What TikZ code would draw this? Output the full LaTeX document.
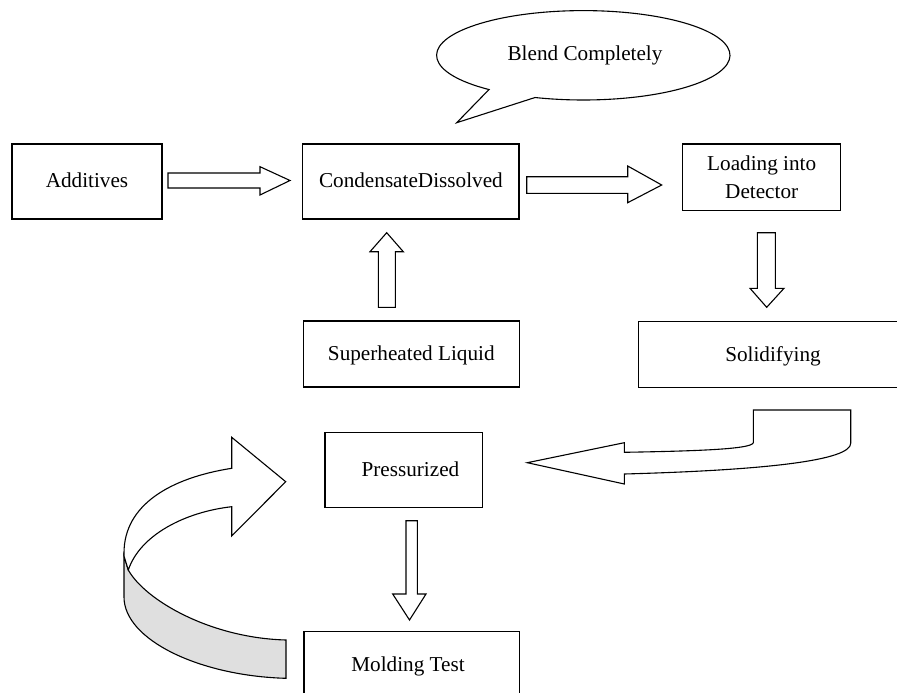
\documentclass[tikz,border=0pt]{standalone}
\usepackage{fontspec}
\setmainfont{Liberation Serif}
\usetikzlibrary{calc}
\tikzset{
  box/.style={draw, line width=1.2pt, inner sep=0pt, text height=15pt, text depth=3pt},
  lbl/.style={inner sep=0pt, text height=15pt, text depth=3pt},
  blk/.style={draw, line width=1.1pt, fill=white, line join=miter},
  ribbon/.style={draw, line width=1.1pt, fill=gray!25},
}
\begin{document}
\begin{tikzpicture}[x=1pt, y=-1pt, font=\fontsize{21.2pt}{28pt}\selectfont]
\useasboundingbox (0,0) rectangle (897,693);

% boxes
\node[box, minimum width=150pt, minimum height=75pt] (add) at (87,181.5) {Additives};
\node[box, minimum width=216.3pt, minimum height=75pt] (cond) at (410.9,181.5) {CondensateDissolved};
\node[draw, line width=1.2pt, inner sep=0pt, minimum width=158pt, minimum height=66.7pt, align=center] (load) at (761.7,177.4) {Loading into\\Detector};
\node[box, minimum width=216pt, minimum height=66pt] (superh) at (411.3,354) {Superheated Liquid};
\node[lbl] (solid) at (773,355) {Solidifying};
\coordinate (str) at (897,321.7);
\coordinate (sbr) at (897,387.5);
\draw[line width=1.2pt] (str) -- (638.3,321.7) -- (638.3,387.5) -- (sbr);
\node[box, minimum width=157.7pt, minimum height=74.6pt] (press) at (403.9,470) {\hspace*{13pt}Pressurized};
\coordinate (mtl) at (304,693);
\coordinate (mtr) at (519.3,693);
\draw[line width=1.2pt] (mtl) -- (304,631.7) -- (519.3,631.7) -- (mtr);
\node[lbl] (mold) at (408,665.7) {Molding Test};

% callout
\node[lbl] (blend) at (585,54) {Blend Completely};
\coordinate (ec) at (583.3,55.3);
\coordinate (tail) at (456.7,122.7);
\draw[line width=1.1pt, line join=miter] (tail) -- ($(ec)+(130:146.7 and 44.7)$)
  arc[start angle=130, end angle=469.2, x radius=146.7, y radius=44.7] -- cycle;

% straight block arrows
\draw[blk] (168,173) -- (260,173) -- (260,166.7) -- (290,180.5) -- (260,195) -- (260,188) -- (168,188) -- cycle;
\draw[blk] (526.7,176.7) -- (627.7,176.7) -- (627.7,166) -- (661.7,185) -- (627.7,202.7) -- (627.7,193.3) -- (526.7,193.3) -- cycle;
\draw[blk] (378.3,307.3) -- (378.3,251.7) -- (370,251.7) -- (386.7,232.7) -- (403.3,251.7) -- (395.3,251.7) -- (395.3,307.3) -- cycle;
\draw[blk] (757.3,232.7) -- (757.3,288.3) -- (750,288.3) -- (766.7,307.3) -- (784,288.3) -- (775.3,288.3) -- (775.3,232.7) -- cycle;
\draw[blk] (406,520.7) -- (406,594) -- (392.7,594) -- (409.5,620) -- (426,594) -- (417.3,594) -- (417.3,520.7) -- cycle;

% U-turn arrow from Solidifying to Pressurized
\draw[blk] (527.3,462.7) -- (624.3,442.7) -- (624.3,452.3)
  .. controls (700,451) and (752,449) .. (753.3,442.7)
  -- (753.3,410) -- (850.7,410) -- (850.7,443.3)
  .. controls (850.7,460) and (770,470) .. (624.3,474)
  -- (624.3,484) -- cycle;

% curved ribbon arrow from Molding Test to Pressurized
\draw[ribbon] (124,556) -- (124,597)
  .. controls (124,640) and (200,676) .. (286,678.3)
  -- (286,640)
  .. controls (210,638) and (145,600) .. (128.3,570) -- cycle;
\draw[blk] (285.7,481.7) -- (231.7,437.3) -- (231.7,468.3)
  .. controls (170,478) and (124,505) .. (124,553)
  -- (124,556) -- (128.3,570)
  .. controls (140,535) and (185,512) .. (231.7,506.7)
  -- (231.7,536) -- cycle;
\end{tikzpicture}
\end{document}
